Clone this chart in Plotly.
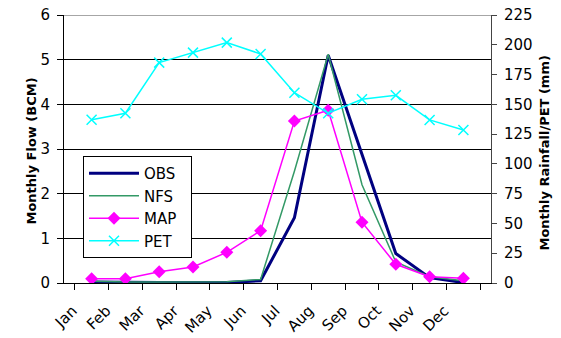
import plotly.graph_objects as go

months = ["Jan", "Feb", "Mar", "Apr", "May", "Jun", "Jul", "Aug", "Sep", "Oct", "Nov", "Dec"]
obs = [0.02, 0.01, 0.01, 0.01, 0.01, 0.05, 1.46, 5.10, 2.90, 0.66, 0.12, 0.01]
nfs = [0.04, 0.02, 0.02, 0.02, 0.03, 0.08, 2.50, 5.12, 2.20, 0.47, 0.14, 0.05]
map_mm = [3.6, 3.6, 9.5, 13.4, 25.8, 43.9, 136, 145, 51, 15.7, 5.3, 3.9]
pet_mm = [137, 142.5, 185, 193.4, 201.8, 192.3, 159.8, 142.5, 154.2, 157.6, 136.9, 128.5]

FONT = "DejaVu Sans, sans-serif"

W, H = 561, 338
L, R, T, B = 64, 70, 15, 55
pw, ph = W - L - R, H - T - B


def px(xp):
    return (xp - L) / pw


def py(yp):
    return (H - B - yp) / ph


NB = "\u00a0"

fig = go.Figure()
fig.add_trace(go.Scatter(x=months, y=obs, name="OBS" + NB * 2, mode="lines",
                         line=dict(color="#000080", width=3)))
fig.add_trace(go.Scatter(x=months, y=nfs, name="NFS" + NB * 2, mode="lines",
                         line=dict(color="#339966", width=1.5)))
fig.add_trace(go.Scatter(x=months, y=map_mm, name="MAP" + NB * 2, mode="lines+markers", yaxis="y2",
                         line=dict(color="#FF00FF", width=1.5),
                         marker=dict(symbol="diamond", size=10, color="#FF00FF")))
fig.add_trace(go.Scatter(x=months, y=pet_mm, name="PET" + NB * 2, mode="lines+markers", yaxis="y2",
                         line=dict(color="#00FFFF", width=1.5),
                         marker=dict(symbol="x-thin-open", size=10, color="#00FFFF",
                                     line=dict(color="#00FFFF", width=1.5))))

fig.update_layout(
    width=W, height=H,
    margin=dict(l=L, r=R, t=T, b=B, autoexpand=False),
    paper_bgcolor="white", plot_bgcolor="white",
    font=dict(family=FONT, size=14, color="black"),
    showlegend=True,
    legend=dict(x=px(83), y=py(156), xanchor="left", yanchor="top",
                bgcolor="white", bordercolor="black", borderwidth=1,
                font=dict(size=15, family=FONT), itemwidth=50, tracegroupgap=0),
    xaxis=dict(type="category", tickson="boundaries", ticks="outside", ticklen=6,
               tickcolor="black", showline=True, linecolor="black", linewidth=1,
               tickangle=-45, showgrid=False, tickfont=dict(size=15), automargin=False,
               ticklabelstandoff=12, ticklabelshift=-19, ticklabeloverflow="allow"),
    yaxis=dict(range=[0, 6], dtick=1, ticks="outside", ticklen=6, tickcolor="black",
               showline=True, linecolor="black", linewidth=1,
               showgrid=True, gridcolor="black", gridwidth=1, zeroline=False,
               tickfont=dict(size=15), ticklabelstandoff=4, automargin=False,
               ticklabeloverflow="allow"),
    yaxis2=dict(range=[0, 225], dtick=25, overlaying="y", side="right",
                ticks="outside", ticklen=5, tickcolor="#444444",
                showline=True, linecolor="#444444", linewidth=1,
                showgrid=False, zeroline=False,
                tickfont=dict(size=15), ticklabelstandoff=4, automargin=False,
                ticklabeloverflow="allow"),
    shapes=[dict(type="line", xref="paper", yref="y", x0=0, x1=1, y0=6, y1=6,
                 line=dict(color="#888888", width=1.5), layer="above")],
    annotations=[
        dict(text="<b>Monthly Flow (BCM)</b>", textangle=-90, x=px(21), y=py(151),
             xref="paper", yref="paper", showarrow=False, font=dict(size=13)),
        dict(text="<b>Monthly Rainfall/PET (mm)</b>", textangle=-90, x=px(553), y=py(153),
             xref="paper", yref="paper", showarrow=False, font=dict(size=13)),
    ],
)

fig.write_html("out.html", config={"displayModeBar": False},
               post_script="document.body.style.margin='0';")
